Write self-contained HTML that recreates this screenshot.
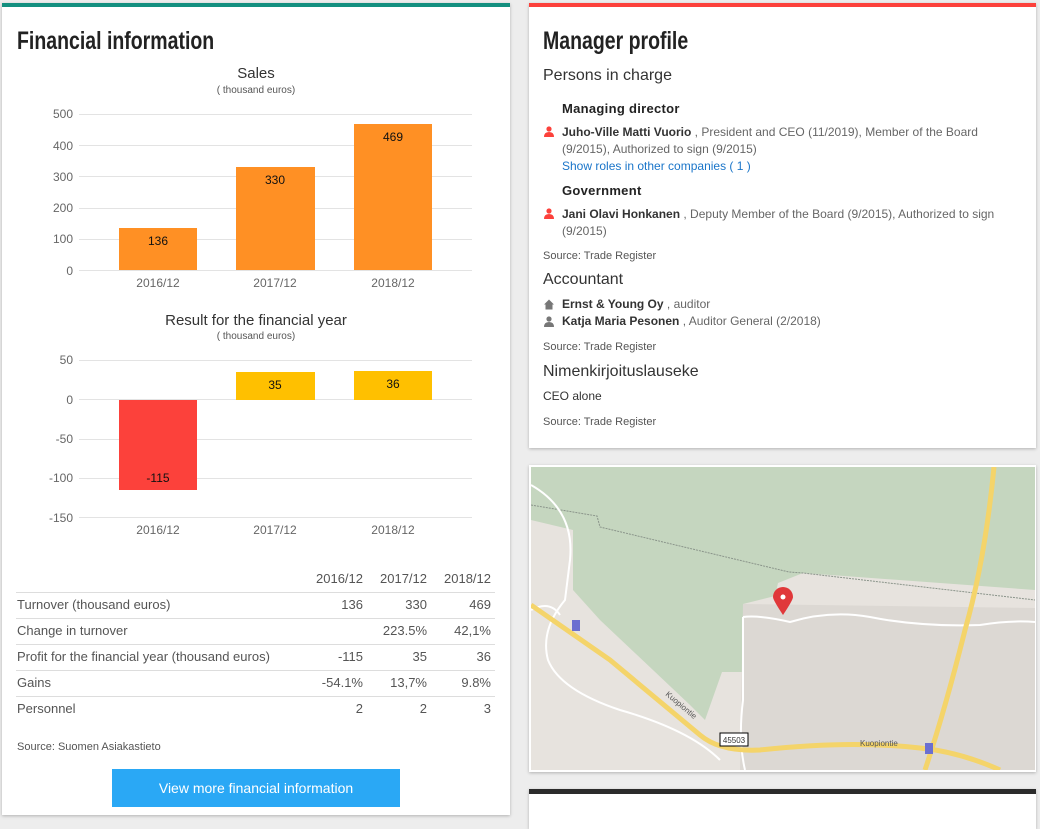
<!DOCTYPE html>
<html><head><meta charset="utf-8"><style>
*{margin:0;padding:0;box-sizing:border-box}
body{width:1040px;height:812px;background:#ededed;font-family:"Liberation Sans",sans-serif;position:relative;overflow:hidden;color:#333}
.card{position:absolute;background:#fff;box-shadow:0 1px 3px rgba(0,0,0,.25)}
.a{position:absolute;white-space:nowrap}
h2{position:absolute;font-family:"Liberation Sans Narrow","Liberation Sans",sans-serif;font-weight:bold;font-size:25px;color:#222;white-space:nowrap;transform:scaleX(0.78);transform-origin:0 0}
.g{color:#666}
.tr{position:absolute;left:16px;width:479px;height:1px;background:#ddd}
.num{position:absolute;text-align:right;width:60px;font-size:13px;color:#555}
.lbl{position:absolute;font-size:13px;color:#555;left:17px}
.src{position:absolute;font-size:11px;color:#555}
.ic{position:absolute;width:10px;height:11px}
</style></head><body>
<!-- left card -->
<div class="card" style="left:2px;top:3px;width:508px;height:812px;border-top:4px solid #138f7f"></div>
<h2 style="left:17px;top:27px">Financial information</h2>
<svg style="position:absolute;left:0;top:0" width="520" height="560" font-family="Liberation Sans, sans-serif">
<text x="256" y="78" font-size="15" fill="#333" text-anchor="middle">Sales</text>
<text x="256" y="93" font-size="10" fill="#555" text-anchor="middle">( thousand euros)</text>
<g stroke="#e3e3e3" stroke-width="1">
<line x1="79" x2="472" y1="114.5" y2="114.5"/><line x1="79" x2="472" y1="145.5" y2="145.5"/><line x1="79" x2="472" y1="176.5" y2="176.5"/><line x1="79" x2="472" y1="208.5" y2="208.5"/><line x1="79" x2="472" y1="239.5" y2="239.5"/><line x1="79" x2="472" y1="270.5" y2="270.5"/>
</g>
<g font-size="12" fill="#666" text-anchor="end">
<text x="73" y="118">500</text><text x="73" y="150">400</text><text x="73" y="181">300</text><text x="73" y="212">200</text><text x="73" y="243">100</text><text x="73" y="275">0</text>
</g>
<g fill="#ff9024"><rect x="119" y="228" width="78" height="42"/><rect x="236" y="167" width="79" height="103"/><rect x="354" y="124" width="78" height="146"/></g>
<g font-size="12" fill="#111" text-anchor="middle"><text x="158" y="245">136</text><text x="275" y="184">330</text><text x="393" y="141">469</text></g>
<g font-size="12" fill="#666" text-anchor="middle"><text x="158" y="287">2016/12</text><text x="275" y="287">2017/12</text><text x="393" y="287">2018/12</text></g>

<text x="256" y="325" font-size="15" fill="#333" text-anchor="middle">Result for the financial year</text>
<text x="256" y="339" font-size="10" fill="#555" text-anchor="middle">( thousand euros)</text>
<g stroke="#e3e3e3" stroke-width="1">
<line x1="79" x2="472" y1="360.5" y2="360.5"/><line x1="79" x2="472" y1="399.5" y2="399.5"/><line x1="79" x2="472" y1="439.5" y2="439.5"/><line x1="79" x2="472" y1="478.5" y2="478.5"/><line x1="79" x2="472" y1="517.5" y2="517.5"/>
</g>
<g font-size="12" fill="#666" text-anchor="end">
<text x="73" y="364">50</text><text x="73" y="404">0</text><text x="73" y="443">-50</text><text x="73" y="482">-100</text><text x="73" y="522">-150</text>
</g>
<rect x="119" y="400" width="78" height="90" fill="#fc413b"/>
<rect x="236" y="372" width="79" height="28" fill="#ffc000"/>
<rect x="354" y="371" width="78" height="29" fill="#ffc000"/>
<g font-size="12" fill="#111" text-anchor="middle"><text x="158" y="482">-115</text><text x="275" y="389">35</text><text x="393" y="388">36</text></g>
<g font-size="12" fill="#666" text-anchor="middle"><text x="158" y="534">2016/12</text><text x="275" y="534">2017/12</text><text x="393" y="534">2018/12</text></g>
</svg>
<!-- table -->
<div class="num" style="left:303px;top:571px">2016/12</div><div class="num" style="left:367px;top:571px">2017/12</div><div class="num" style="left:431px;top:571px">2018/12</div>
<div class="tr" style="top:592px"></div><div class="tr" style="top:618px"></div><div class="tr" style="top:644px"></div><div class="tr" style="top:670px"></div><div class="tr" style="top:696px"></div>
<div class="lbl" style="top:597px">Turnover (thousand euros)</div>
<div class="num" style="left:303px;top:597px">136</div><div class="num" style="left:367px;top:597px">330</div><div class="num" style="left:431px;top:597px">469</div>
<div class="lbl" style="top:623px">Change in turnover</div>
<div class="num" style="left:367px;top:623px">223.5%</div><div class="num" style="left:431px;top:623px">42,1%</div>
<div class="lbl" style="top:649px">Profit for the financial year (thousand euros)</div>
<div class="num" style="left:303px;top:649px">-115</div><div class="num" style="left:367px;top:649px">35</div><div class="num" style="left:431px;top:649px">36</div>
<div class="lbl" style="top:675px">Gains</div>
<div class="num" style="left:303px;top:675px">-54.1%</div><div class="num" style="left:367px;top:675px">13,7%</div><div class="num" style="left:431px;top:675px">9.8%</div>
<div class="lbl" style="top:701px">Personnel</div>
<div class="num" style="left:303px;top:701px">2</div><div class="num" style="left:367px;top:701px">2</div><div class="num" style="left:431px;top:701px">3</div>
<div class="src" style="left:17px;top:741px">Source: Suomen Asiakastieto</div>
<div style="position:absolute;left:112px;top:769px;width:288px;height:38px;background:#2aa8f5;color:#fff;font-size:14px;text-align:center;line-height:38px">View more financial information</div>

<!-- right card -->
<div class="card" style="left:529px;top:3px;width:507px;height:445px;border-top:4px solid #fc413b"></div>
<h2 style="left:543px;top:27px">Manager profile</h2>
<div class="a" style="left:543px;top:67px;font-size:16px;color:#333">Persons in charge</div>
<div class="a" style="left:562px;top:101px;font-size:13px;font-weight:bold;color:#222;letter-spacing:.3px">Managing director</div>
<svg class="ic" style="left:544px;top:126px" viewBox="0 0 10 11"><circle cx="5" cy="3" r="2.6" fill="#fc413b"/><path d="M0 11 Q0 6 5 6 Q10 6 10 11Z" fill="#fc413b"/></svg>
<div class="a" style="left:562px;top:124px;font-size:12px;line-height:17px;color:#666;white-space:normal;width:465px"><b style="color:#333">Juho-Ville Matti Vuorio</b> , President and CEO (11/2019), Member of the Board (9/2015), Authorized to sign (9/2015)<br><span style="color:#1a75c9">Show roles in other companies ( 1 )</span></div>
<div class="a" style="left:562px;top:183px;font-size:13px;font-weight:bold;color:#222;letter-spacing:.3px">Government</div>
<svg class="ic" style="left:544px;top:208px" viewBox="0 0 10 11"><circle cx="5" cy="3" r="2.6" fill="#fc413b"/><path d="M0 11 Q0 6 5 6 Q10 6 10 11Z" fill="#fc413b"/></svg>
<div class="a" style="left:562px;top:206px;font-size:12px;line-height:17px;color:#666;white-space:normal;width:465px"><b style="color:#333">Jani Olavi Honkanen</b> , Deputy Member of the Board (9/2015), Authorized to sign (9/2015)</div>
<div class="src" style="left:543px;top:250px">Source: Trade Register</div>
<div class="a" style="left:543px;top:271px;font-size:16px;color:#333">Accountant</div>
<svg class="ic" style="left:544px;top:299px" viewBox="0 0 10 10"><path d="M0 5 L5 0 L10 5 L8.5 5 L8.5 10 L1.5 10 L1.5 5Z" fill="#777"/></svg>
<div class="a" style="left:562px;top:297px;font-size:12px;color:#666"><b style="color:#333">Ernst &amp; Young Oy</b> , auditor</div>
<svg class="ic" style="left:544px;top:316px" viewBox="0 0 10 11"><circle cx="5" cy="3" r="2.6" fill="#777"/><path d="M0 11 Q0 6 5 6 Q10 6 10 11Z" fill="#777"/></svg>
<div class="a" style="left:562px;top:314px;font-size:12px;color:#666"><b style="color:#333">Katja Maria Pesonen</b> , Auditor General (2/2018)</div>
<div class="src" style="left:543px;top:341px">Source: Trade Register</div>
<div class="a" style="left:543px;top:363px;font-size:16px;color:#333">Nimenkirjoituslauseke</div>
<div class="a" style="left:543px;top:389px;font-size:12px;color:#333">CEO alone</div>
<div class="src" style="left:543px;top:416px">Source: Trade Register</div>

<!-- map -->
<div class="card" style="left:529px;top:465px;width:507px;height:307px"></div>
<svg style="position:absolute;left:531px;top:467px" width="504" height="303" viewBox="531 467 504 303">
<rect x="531" y="467" width="504" height="303" fill="#e7e3de"/>
<path d="M531 467 L1035 467 L1035 590 L803 573 L778 583 L775 596 L743 604 L743 672 L722 672 L705 720 L690 705 L600 620 L573 590 L573 530 L531 520Z" fill="#c5d6bf"/>
<path d="M743 604 L1035 608 L1035 770 L740 770Z" fill="#dcd8d3"/>
<path d="M531 505 L597 516 L600 527 L789 572 L803 573 L1035 600" fill="none" stroke="#8a948a" stroke-width="1" stroke-dasharray="2,1"/>
<g fill="none" stroke="#fff" stroke-width="2">
<path d="M743 617 Q760 615 790 622 Q830 610 870 617 Q920 627 980 625 Q1010 620 1035 622"/>
<path d="M743 617 L743 700 Q738 740 745 770"/>
<path d="M531 485 Q575 510 570 560 L565 600 Q540 630 548 660 Q560 690 620 710 Q690 730 720 760"/>
<path d="M531 610 Q550 600 560 615"/>
</g>
<g fill="none" stroke="#f4d46a" stroke-width="5">
<path d="M531 605 L610 660 L700 735 Q720 752 760 750 Q850 740 920 748 Q960 752 1000 770"/>
<path d="M994 467 Q985 560 965 630 Q945 710 925 770"/>
</g>
<rect x="572" y="620" width="8" height="11" fill="#6b6fd0"/>
<rect x="925" y="743" width="8" height="11" fill="#6b6fd0"/>
<rect x="720" y="733" width="28" height="13" fill="#fff" stroke="#000"/>
<text x="734" y="743" font-size="8" text-anchor="middle" fill="#333" font-family="Liberation Sans">45503</text>
<text x="860" y="746" font-size="8" fill="#555" font-family="Liberation Sans">Kuopiontie</text>
<text x="665" y="695" font-size="8" fill="#555" font-family="Liberation Sans" transform="rotate(40 665 695)">Kuopiontie</text>
<path d="M783 615 Q773 600 773 597 A10 10 0 1 1 793 597 Q793 600 783 615Z" fill="#e0383a"/>
<circle cx="783" cy="597" r="2.5" fill="#fff"/>
</svg>
<!-- bottom card -->
<div class="card" style="left:529px;top:789px;width:507px;height:40px;border-top:5px solid #2b2b2b"></div>
</body></html>
